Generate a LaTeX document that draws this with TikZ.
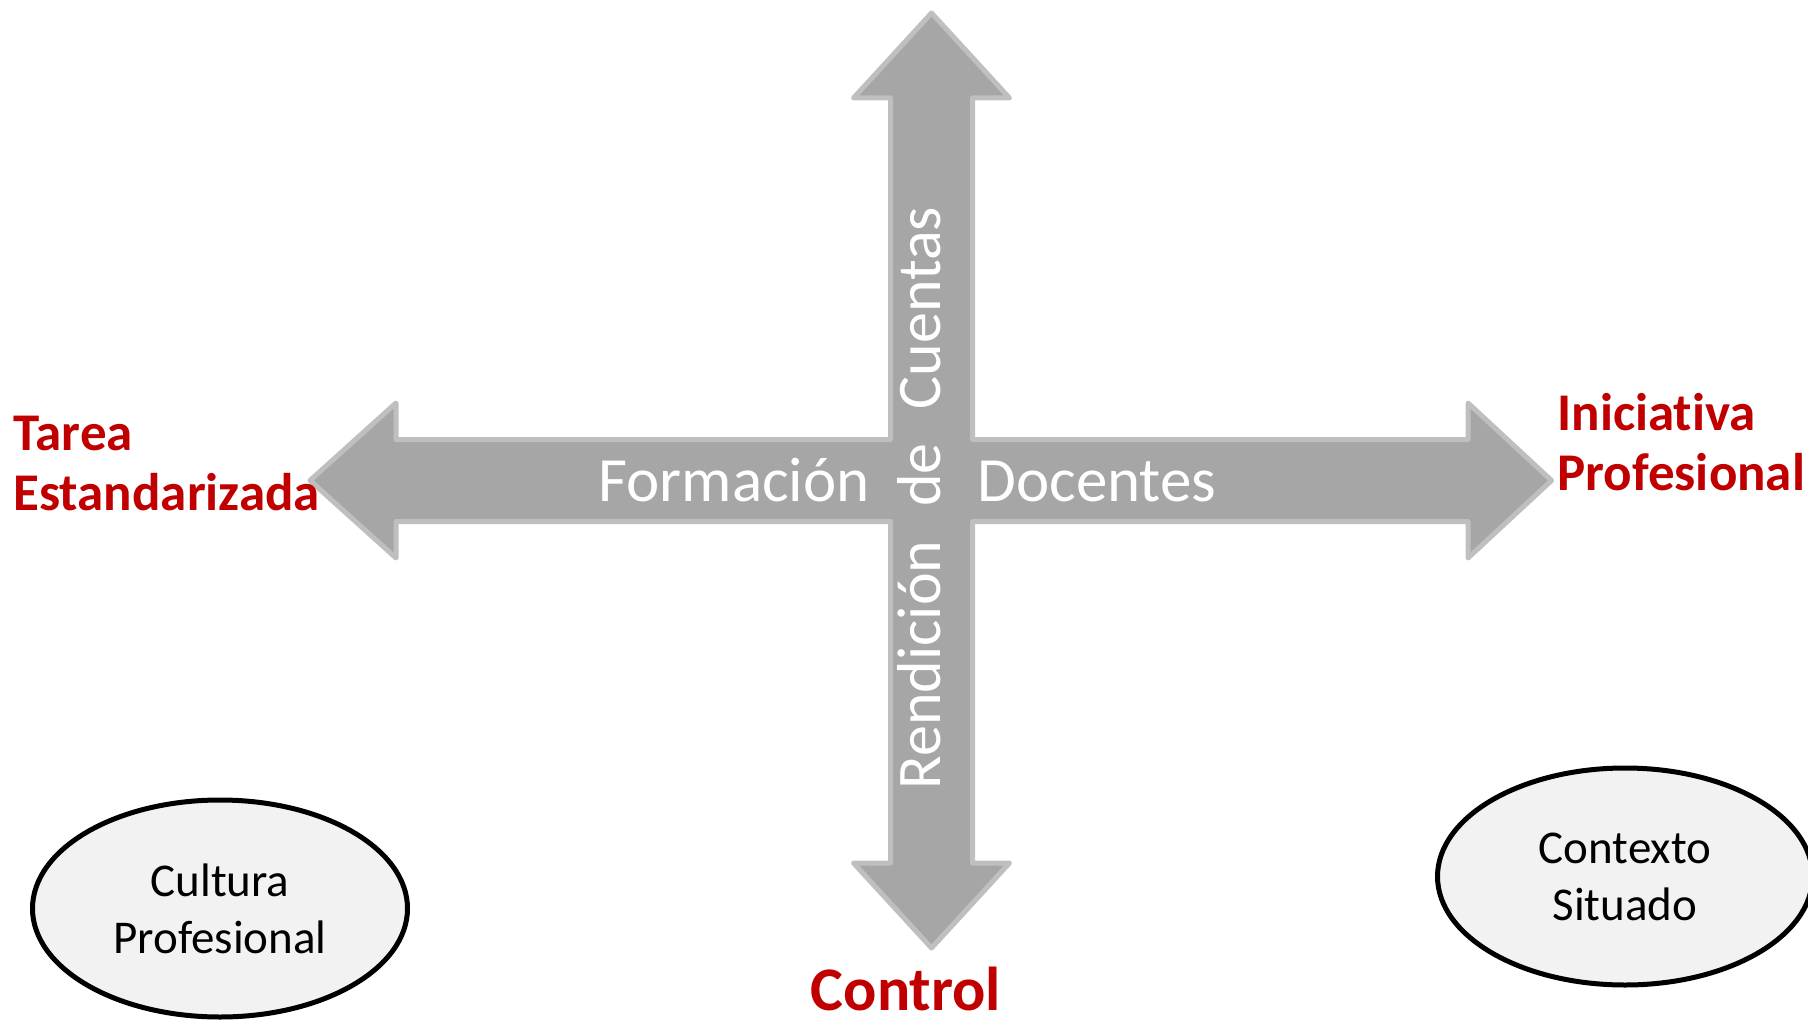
\documentclass[tikz,border=0pt]{standalone}
\usepackage{fontspec}
\setmainfont{Carlito}[Ligatures=NoCommon]
\usepackage{tikz}
\usetikzlibrary{shapes.geometric}
\definecolor{arrowfill}{RGB}{166,166,166}
\definecolor{arrowline}{RGB}{191,191,191}
\definecolor{polered}{RGB}{192,0,0}
\definecolor{ovalfill}{RGB}{242,242,242}

\begin{document}
\begin{tikzpicture}[x=0.5pt,y=0.5pt,yscale=-1,xscale=1,
    axistext/.style={text=white, font=\fontsize{31.5}{37}\selectfont, inner sep=0pt},
    poletext/.style={text=polered, font=\bfseries\fontsize{26.5}{30}\selectfont, align=left, inner sep=0pt},
    oval/.style={ellipse, draw=black, line width=2.5pt, fill=ovalfill, minimum width=187.5pt, minimum height=108.5pt, inner sep=0pt, align=center, font=\fontsize{23.5}{28.5}\selectfont}]
        \useasboundingbox (0,0) rectangle (1808,1021);

        %Shape: Quad Arrow [id:formacion]
        \draw [color=arrowline, fill=arrowfill, line width=2.5pt, line join=round] (931.5,13) -- (1009.5,98) -- (972.5,98) -- (972.5,439.5) -- (1468,439.5) -- (1468,403) -- (1551.5,480.5) -- (1468,558) -- (1468,521.5) -- (972.5,521.5) -- (972.5,863) -- (1009.5,863) -- (931.5,948) -- (853.5,863) -- (890.5,863) -- (890.5,521.5) -- (396,521.5) -- (396,558) -- (310,480.5) -- (396,403) -- (396,439.5) -- (890.5,439.5) -- (890.5,98) -- (853.5,98) -- cycle ;

        % Text Node
        \draw (870,501) node (form) [axistext, anchor=base east] {Formación};
        % Text Node
        \draw (977,501) node (doc) [axistext, anchor=base west] {Docentes};
        % Text Node
        \draw (940,498) node (rend) [axistext, font=\fontsize{31}{37}\selectfont, rotate=90, anchor=base] {Rendición\hspace{17pt}de\hspace{17pt}Cuentas};

        % Text Node
        \draw (13,510) node (tarea) [poletext, anchor=base west] {Tarea\\Estandarizada};
        % Text Node
        \draw (1557,490) node (inic) [poletext, anchor=base west] {Iniciativa\\Profesional};
        % Text Node
        \draw (906,1010) node (ctrl) [poletext, font=\bfseries\fontsize{31}{36}\selectfont, anchor=base] {Control};

        %Shape: Ellipse [id:cultura]
        \draw (220,908.5) node (cult) [oval] {Cultura\\Profesional};
        %Shape: Ellipse [id:contexto]
        \draw (1625,876.5) node (ctx) [oval] {Contexto\\Situado};
    \end{tikzpicture}
\end{document}
